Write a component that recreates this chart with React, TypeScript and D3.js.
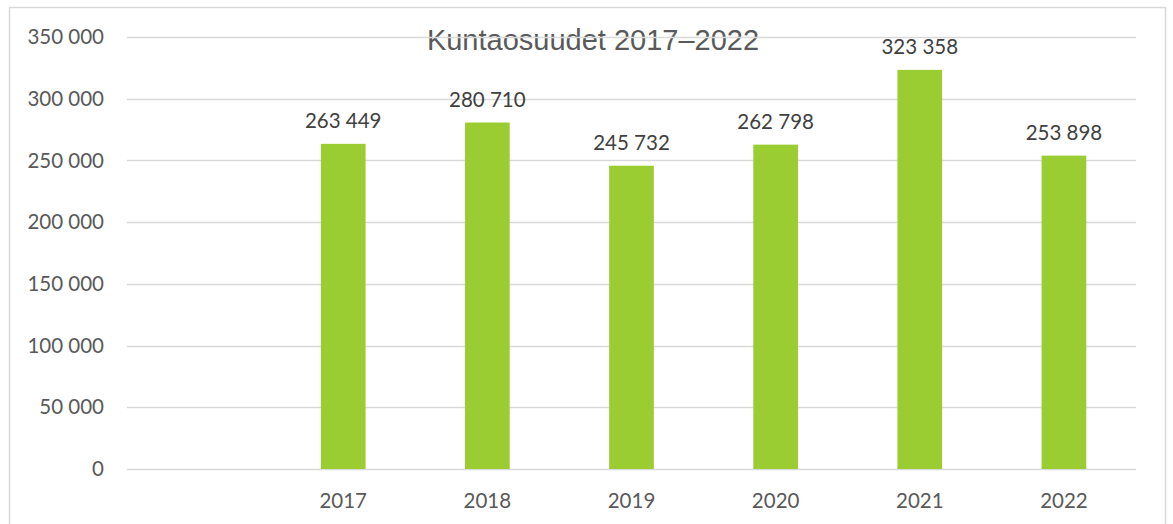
import React, { useRef, useEffect } from "react";
import * as d3 from "d3";

const categories = ["", "2017", "2018", "2019", "2020", "2021", "2022"];
const values = [null, 263449, 280710, 245732, 262798, 323358, 253898];
const yTicks = [0, 50000, 100000, 150000, 200000, 250000, 300000, 350000];
const title = "Kuntaosuudet 2017–2022";

const W = 1173;
const H = 524;

const fmt = (v: number) => d3.format(",")(v).replace(/,/g, " ");

export default function App() {
  const svgRef = useRef<SVGSVGElement>(null);

  useEffect(() => {
    const svg = d3.select(svgRef.current);
    svg.selectAll("*").remove();

    const margin = { top: 37, right: 37, bottom: 55, left: 127 };

    const x = d3
      .scaleBand()
      .domain(categories.map((c, i) => String(i)))
      .range([margin.left, W - margin.right])
      .paddingInner(0.69)
      .paddingOuter(0.345);

    const y = d3
      .scaleLinear()
      .domain([0, 350000])
      .range([H - margin.bottom, margin.top]);

    // chart frame
    svg
      .append("rect")
      .attr("x", 9.5)
      .attr("y", 7.5)
      .attr("width", 1156)
      .attr("height", 530)
      .attr("fill", "#fff")
      .attr("stroke", "#d9d9d9")
      .attr("stroke-width", 1.5);

    // title (drawn under gridlines)
    svg
      .append("text")
      .attr("x", 593)
      .attr("y", 50)
      .attr("text-anchor", "middle")
      .style("font-family", "'Liberation Sans', Arial, sans-serif")
      .style("font-size", "29px")
      .style("fill", "#595959")
      .text(title);

    // gridlines
    svg
      .append("g")
      .selectAll("line")
      .data(yTicks)
      .enter()
      .append("line")
      .attr("x1", margin.left)
      .attr("x2", W - margin.right)
      .attr("y1", (d) => Math.round(y(d)) + 0.5)
      .attr("y2", (d) => Math.round(y(d)) + 0.5)
      .attr("stroke", "#d9d9d9")
      .attr("stroke-width", 1.5);

    // y labels
    svg
      .append("g")
      .selectAll("text")
      .data(yTicks)
      .enter()
      .append("text")
      .attr("x", 104)
      .attr("y", (d) => y(d))
      .attr("dy", "0.35em")
      .attr("text-anchor", "end")
      .style("font-family", "Lato, 'Open Sans', sans-serif")
      .style("font-size", "20.5px")
      .style("fill", "#595959")
      .text((d) => fmt(d));

    // bars
    const data = categories.map((c, i) => ({ key: String(i), label: c, value: values[i] }));
    const withVal = data.filter((d) => d.value != null) as { key: string; label: string; value: number }[];

    svg
      .append("g")
      .selectAll("rect")
      .data(withVal)
      .enter()
      .append("rect")
      .attr("x", (d) => x(d.key)!)
      .attr("y", (d) => y(d.value))
      .attr("width", x.bandwidth())
      .attr("height", (d) => y(0) - y(d.value))
      .attr("fill", "#9acd32");

    // value labels
    svg
      .append("g")
      .selectAll("text")
      .data(withVal)
      .enter()
      .append("text")
      .attr("x", (d) => x(d.key)! + x.bandwidth() / 2)
      .attr("y", (d) => y(d.value) - 16)
      .attr("text-anchor", "middle")
      .style("font-family", "Lato, 'Open Sans', sans-serif")
      .style("font-size", "20.5px")
      .style("fill", "#404040")
      .text((d) => fmt(d.value));

    // x labels
    svg
      .append("g")
      .selectAll("text")
      .data(data)
      .enter()
      .append("text")
      .attr("x", (d) => x(d.key)! + x.bandwidth() / 2)
      .attr("y", 508)
      .attr("text-anchor", "middle")
      .style("font-family", "Lato, 'Open Sans', sans-serif")
      .style("font-size", "20.5px")
      .style("fill", "#595959")
      .text((d) => d.label);
  }, []);

  return (
    <div style={{ position: "absolute", left: 0, top: 0, width: W, height: H, overflow: "hidden", background: "#fff" }}>
      <svg ref={svgRef} width={W} height={H} style={{ display: "block" }}></svg>
    </div>
  );
}
